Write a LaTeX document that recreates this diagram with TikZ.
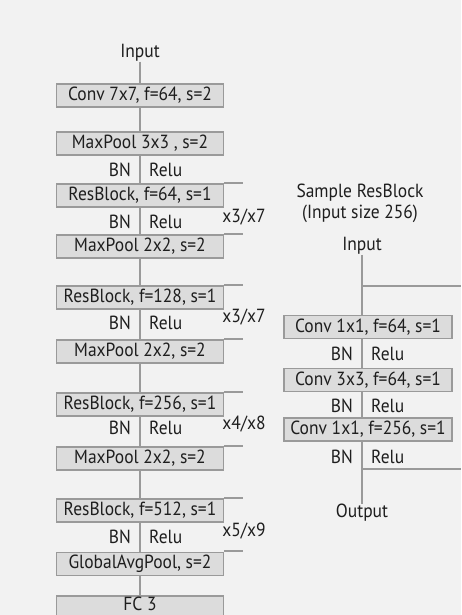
\documentclass[tikz,border=0pt]{standalone}
\usepackage{fontspec}
\setmainfont[FakeStretch=0.92]{PT Sans}
\definecolor{bgc}{HTML}{F2F2F2}
\definecolor{boxfill}{HTML}{DCDCDC}
\definecolor{edgec}{HTML}{9A9A9A}
\definecolor{txt}{HTML}{1E1E1E}
\pgfdeclarelayer{back}
\pgfdeclarelayer{wires}
\pgfsetlayers{back,wires,main}
\tikzset{
  txtfont/.style={font=\fontsize{19}{21}\selectfont},
  layer/.style={draw=edgec, line width=1.6pt, fill=boxfill, text=txt, txtfont,
    minimum width=167pt, minimum height=23pt, inner sep=0pt},
  lbl/.style={text=txt, inner sep=0pt, txtfont},
  bn/.style={lbl, anchor=east},
  relu/.style={lbl, anchor=west},
  wire/.style={draw=edgec, line width=1.8pt},
}
\begin{document}
\begin{tikzpicture}[x=1pt,y=-1pt]
\useasboundingbox (0,0) rectangle (461,615);
\clip (0,0) rectangle (461,615);

% ---- main network column ----
\node[lbl] (in) at (140,53) {Input};
\node[layer] (c1) at (140,95.5) {Conv 7x7, f=64, s=2};
\node[layer] (mp1) at (140,143.5) {MaxPool 3x3 , s=2};
\node[layer] (r1) at (140,195.5) {ResBlock, f=64, s=1};
\node[layer] (mp2) at (140,246.5) {MaxPool 2x2, s=2};
\node[layer] (r2) at (140,297.5) {ResBlock, f=128, s=1};
\node[layer] (mp3) at (140,351.5) {MaxPool 2x2, s=2};
\node[layer] (r3) at (140,404.5) {ResBlock, f=256, s=1};
\node[layer] (mp4) at (140,458.5) {MaxPool 2x2, s=2};
\node[layer] (r4) at (140,510.5) {ResBlock, f=512, s=1};
\node[layer] (gap) at (140,564) {GlobalAvgPool, s=2};
\node[layer, minimum height=30pt, anchor=north] (fc) at (140,595) {};
\node[lbl] (fctxt) at (140,604) {FC 3};

% BN / Relu markers beside the trunk
\node[bn]   (bn1) at (131,170) {BN};   \node[relu] (re1) at (149,170) {Relu};
\node[bn]   (bn2) at (131,222) {BN};   \node[relu] (re2) at (149,222) {Relu};
\node[bn]   (bn3) at (131,323) {BN};   \node[relu] (re3) at (149,323) {Relu};
\node[bn]   (bn4) at (131,428) {BN};   \node[relu] (re4) at (149,428) {Relu};
\node[bn]   (bn5) at (131,537) {BN};   \node[relu] (re5) at (149,537) {Relu};

% repetition counts
\node[lbl] (rep1) at (244,217) {x3/x7};
\node[lbl] (rep2) at (244,317) {x3/x7};
\node[lbl] (rep3) at (244,424) {x4/x8};
\node[lbl] (rep4) at (244,531) {x5/x9};

% ---- sample residual block ----
\node[lbl, align=center] (title) at (360,203) {Sample ResBlock\\(Input size 256)};
\node[lbl] (sin) at (362,246) {Input};
\node[layer, minimum width=168pt] (b1) at (368,327) {Conv 1x1, f=64, s=1};
\node[layer, minimum width=168pt] (b2) at (368,380) {Conv 3x3, f=64, s=1};
\node[layer, minimum width=168pt] (b3) at (368,429.5) {Conv 1x1, f=256, s=1};
\node[lbl] (sout) at (362,513) {Output};

\node[bn]   (sbn1) at (353,354) {BN};  \node[relu] (sre1) at (371,354) {Relu};
\node[bn]   (sbn2) at (353,406) {BN};  \node[relu] (sre2) at (371,406) {Relu};
\node[bn]   (sbn3) at (353,457) {BN};  \node[relu] (sre3) at (371,457) {Relu};

\coordinate (skipA) at (362,286);
\coordinate (skipAr) at (461,286);
\coordinate (skipB) at (362,469);
\coordinate (skipBr) at (461,469);

\begin{pgfonlayer}{back}
  \fill[bgc] (0,0) rectangle (461,615);
\end{pgfonlayer}

\begin{pgfonlayer}{wires}
  % trunk
  \draw[wire] (in.south) -- (c1.north);
  \draw[wire] (c1) -- (mp1);
  \draw[wire] (mp1) -- (r1);
  \draw[wire] (r1) -- (mp2);
  \draw[wire] (mp2) -- (r2);
  \draw[wire] (r2) -- (mp3);
  \draw[wire] (mp3) -- (r3);
  \draw[wire] (r3) -- (mp4);
  \draw[wire] (mp4) -- (r4);
  \draw[wire] (r4) -- (gap);
  \draw[wire] (gap) -- (fc);
  % group brackets
  \foreach \n in {r1,mp2,r2,mp3,r3,mp4,r4,gap}
    \draw[wire] ([yshift=0.5pt]\n.north east) -- ++(19,0);
  % sample block: straight trunk at x of the input label
  \draw[wire] (sin.south) -- (sin.south |- b1.north);
  \draw[wire] (sin.south |- b1.south) -- (sin.south |- b2.north);
  \draw[wire] (sin.south |- b2.south) -- (sin.south |- b3.north);
  \draw[wire] (sin.south |- b3.south) -- (sout.north);
  % shortcut branch and merge
  \draw[wire] (skipA) -- (skipAr);
  \draw[wire] (skipB) -- (skipBr);
\end{pgfonlayer}
\end{tikzpicture}
\end{document}
